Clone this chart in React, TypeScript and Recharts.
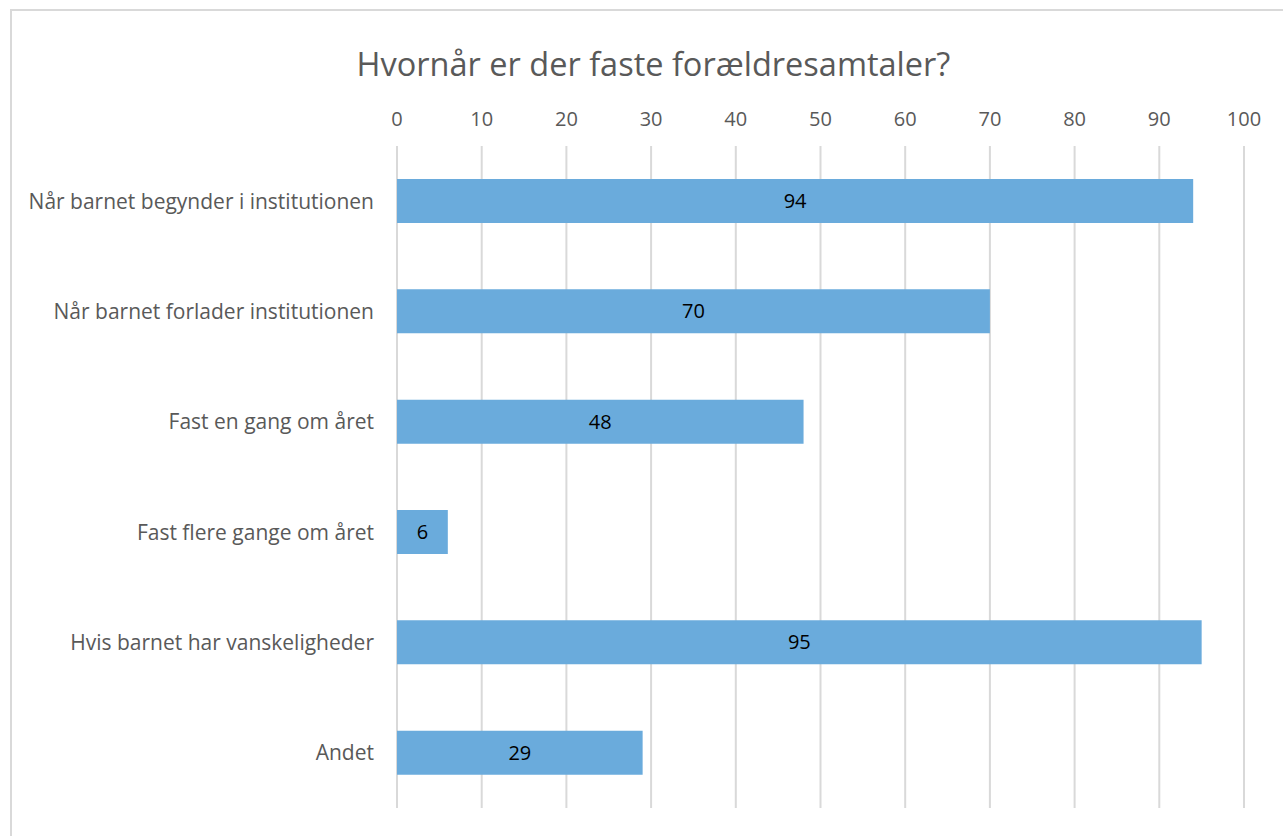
import { Bar, BarChart, CartesianGrid, LabelList, XAxis, YAxis } from "recharts";

const categories = [
  "Når barnet begynder i institutionen",
  "Når barnet forlader institutionen",
  "Fast en gang om året",
  "Fast flere gange om året",
  "Hvis barnet har vanskeligheder",
  "Andet",
];
const values = [94, 70, 48, 6, 95, 29];
const xTicks = [0, 10, 20, 30, 40, 50, 60, 70, 80, 90, 100];

const data = categories.map((name, i) => ({ name, value: values[i] }));

const font = "'Open Sans', 'Noto Sans', sans-serif";
const grey = "#595959";

export default function App() {
  return (
    <div
      style={{
        position: "fixed",
        top: 0,
        left: 0,
        width: 1283,
        height: 836,
        overflow: "hidden",
        background: "#fff",
        fontFamily: font,
      }}
    >
      <div
        style={{
          position: "absolute",
          left: 10,
          top: 9,
          width: 1300,
          height: 860,
          border: "2px solid #d9d9d9",
        }}
      />
      <div
        style={{
          position: "absolute",
          left: 0,
          right: 0,
          top: 41,
          textAlign: "center",
          fontSize: 32.5,
          color: grey,
          paddingLeft: 24,
        }}
      >
        Hvornår er der faste forældresamtaler?
      </div>
      <BarChart
        width={1283}
        height={836}
        data={data}
        layout="vertical"
        margin={{ top: 116, right: 39, bottom: 28, left: 0 }}
        barSize={44}
        style={{ position: "absolute", left: 0, top: 0 }}
      >
        <CartesianGrid horizontal={false} stroke="#d9d9d9" strokeWidth={2} />
        <XAxis
          type="number"
          orientation="top"
          domain={[0, 100]}
          ticks={xTicks}
          height={30}
          axisLine={false}
          tickLine={false}
          tickSize={0}
          tickMargin={20}
          tick={{ fill: grey, fontSize: 20, fontFamily: font }}
        />
        <YAxis
          type="category"
          dataKey="name"
          width={397}
          axisLine={false}
          tickLine={false}
          tickSize={0}
          tickMargin={23}
          tick={{ fill: grey, fontSize: 21, fontFamily: font }}
        />
        <Bar dataKey="value" fill="#6aabdc" isAnimationActive={false}>
          <LabelList
            dataKey="value"
            position="center"
            fill="#000"
            fontSize={20}
            fontFamily={font}
          />
        </Bar>
      </BarChart>
    </div>
  );
}
